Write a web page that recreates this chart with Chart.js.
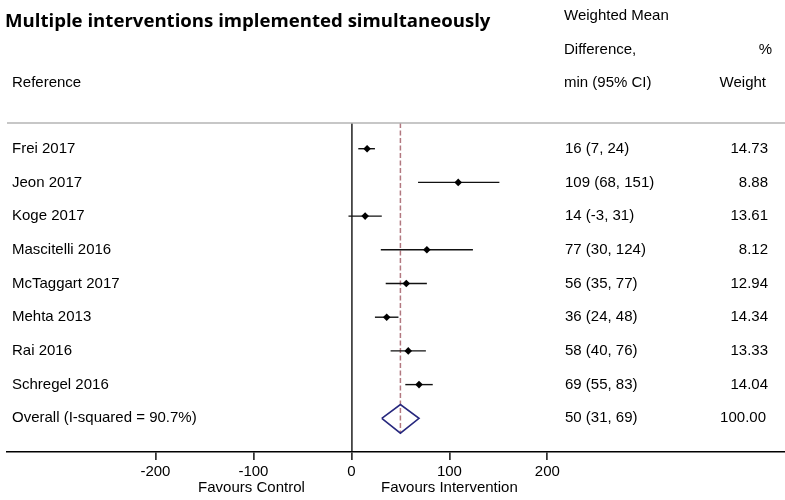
<!DOCTYPE html>
<html>
<head>
<meta charset="utf-8">
<script src="https://cdn.jsdelivr.net/npm/chart.js@4/dist/chart.umd.min.js"></script>
<style>
  html, body { margin: 0; padding: 0; background: #fff; }
  #wrap { width: 785px; height: 500px; position: relative; }
</style>
</head>
<body>
<div id="wrap"><canvas id="forest"></canvas></div>
<script>
( function () {
    'use strict';

    // study rows, top to bottom
    var studies  = [ 'Frei 2017', 'Jeon 2017', 'Koge 2017', 'Mascitelli 2016', 'McTaggart 2017', 'Mehta 2013', 'Rai 2016', 'Schregel 2016' ];
    var estimate = [ 16, 109, 14, 77, 56, 36, 58, 69 ];
    var ciLow    = [ 7, 68, -3, 30, 35, 24, 40, 55 ];
    var ciHigh   = [ 24, 151, 31, 124, 77, 48, 76, 83 ];
    var weights  = [ '14.73', '8.88', '13.61', '8.12', '12.94', '14.34', '13.33', '14.04' ];

    var overallLabel = 'Overall (I-squared = 90.7%)';
    var overall      = { est: 50, lo: 31, hi: 69, weight: '100.00' };

    var xTicks = [ -200, -100, 0, 100, 200 ];

    var FONT = '"Liberation Sans", Arial, sans-serif';
    var overallRow = studies.length;

    var ciLabel = function ( e, l, h ) { return e + ' (' + l + ', ' + h + ')'; };

    var datasets = [];

    datasets.push( {
        type: 'scatter',
        data: estimate.map( function ( v, i ) { return { x: v, y: i }; } ),
        pointStyle: 'rectRot',
        pointRadius: 3.8,
        backgroundColor: '#000',
        borderColor: '#000',
        borderWidth: 0,
        order: 0
    } );

    studies.forEach( function ( s, i ) {
        datasets.push( {
            type: 'line',
            data: [ { x: ciLow[ i ], y: i }, { x: ciHigh[ i ], y: i } ],
            borderColor: '#111',
            borderWidth: 1.4,
            pointRadius: 0,
            order: 1
        } );
    } );

    // pooled estimate diamond
    datasets.push( {
        type: 'line',
        data: [
            { x: overall.lo, y: overallRow },
            { x: overall.est, y: overallRow - 0.41 },
            { x: overall.hi, y: overallRow },
            { x: overall.est, y: overallRow + 0.44 },
            { x: overall.lo, y: overallRow }
        ],
        borderColor: '#27287e',
        borderWidth: 1.6,
        pointRadius: 0,
        fill: false,
        order: 2
    } );

    // dashed line at pooled estimate
    datasets.push( {
        type: 'line',
        data: [ { x: overall.est, y: -0.763 }, { x: overall.est, y: overallRow + 0.44 } ],
        borderColor: '#b27880',
        borderWidth: 1.5,
        borderDash: [ 5, 2.5 ],
        pointRadius: 0,
        order: 3
    } );

    var textPlugin = {
        id: 'forestText',
        afterDraw: function ( chart ) {
            var c = chart.ctx;
            var ys = chart.scales.y;
            var xs = chart.scales.x;
            var area = chart.chartArea;
            c.save();

            // title
            c.fillStyle = '#000';
            c.font = 'bold 18.6px "Open Sans", "Noto Sans", sans-serif';
            c.textBaseline = 'alphabetic';
            c.textAlign = 'left';
            c.fillText( 'Multiple interventions implemented simultaneously', 5, 27 );

            c.font = '15px ' + FONT;
            c.textBaseline = 'middle';
            c.fillText( 'Reference', 12, 83 );
            c.fillText( 'Weighted Mean', 564, 16 );
            c.fillText( 'Difference,', 564, 49.5 );
            c.fillText( 'min (95% CI)', 564, 83 );
            c.textAlign = 'right';
            c.fillText( '%', 772, 49.5 );
            c.fillText( 'Weight', 766, 83 );

            // header rule
            c.strokeStyle = '#b4b4b4';
            c.lineWidth = 1.3;
            c.beginPath();
            c.moveTo( area.left, area.top );
            c.lineTo( area.right, area.top );
            c.stroke();

            studies.forEach( function ( s, i ) {
                var y = ys.getPixelForValue( i );
                c.textAlign = 'left';
                c.fillText( s, 12, y );
                c.fillText( ciLabel( estimate[ i ], ciLow[ i ], ciHigh[ i ] ), 565, y );
                c.textAlign = 'right';
                c.fillText( weights[ i ], 768, y );
            } );

            var yo = ys.getPixelForValue( overallRow );
            c.textAlign = 'left';
            c.fillText( overallLabel, 12, yo );
            c.fillText( ciLabel( overall.est, overall.lo, overall.hi ), 565, yo );
            c.textAlign = 'right';
            c.fillText( overall.weight, 766, yo );

            c.textAlign = 'center';
            c.fillText( 'Favours Control', xs.getPixelForValue( -102 ), 488 );
            c.fillText( 'Favours Intervention', xs.getPixelForValue( 100 ), 488 );
            c.restore();
        }
    };

    new Chart( document.getElementById( 'forest' ), {
        data: { datasets: datasets },
        options: {
            responsive: true,
            maintainAspectRatio: false,
            animation: false,
            layout: { autoPadding: false, padding: { top: 123, left: 7, right: 0, bottom: 0 } },
            plugins: {
                legend: { display: false },
                tooltip: { enabled: false }
            },
            scales: {
                x: {
                    type: 'linear',
                    position: 'bottom',
                    min: -351.5,
                    max: 442.5,
                    afterBuildTicks: function ( scale ) {
                        scale.ticks = xTicks.map( function ( v ) { return { value: v }; } );
                    },
                    afterFit: function ( scale ) { scale.height = 48; },
                    ticks: {
                        color: '#000',
                        padding: 3,
                        autoSkip: false,
                        maxRotation: 0,
                        font: { family: FONT, size: 15 }
                    },
                    grid: {
                        color: function ( ctx ) {
                            return ctx.tick && ctx.tick.value === 0 ? '#444' : 'rgba(0,0,0,0)';
                        },
                        lineWidth: 1.8,
                        tickColor: '#000',
                        tickLength: 8,
                        tickWidth: 1.4
                    },
                    border: { color: '#000', width: 1.6 }
                },
                y: {
                    type: 'linear',
                    display: false,
                    reverse: true,
                    min: -0.763,
                    max: 9
                }
            }
        },
        plugins: [ textPlugin ]
    } );
} )();
</script>
</body>
</html>
